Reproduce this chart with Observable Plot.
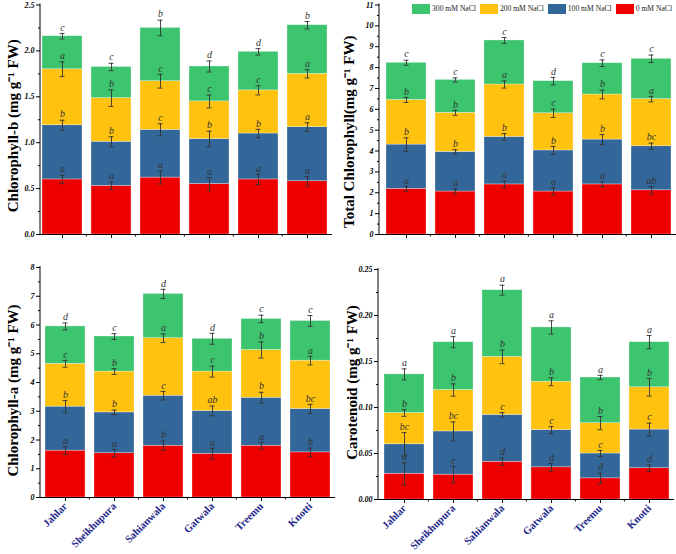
<!DOCTYPE html>
<html><head><meta charset="utf-8">
<script src="https://cdn.jsdelivr.net/npm/d3@7"></script>
<script src="https://cdn.jsdelivr.net/npm/@observablehq/plot@0.6"></script>
<style>
body{margin:0;background:#fff;}
#fig{position:relative;width:676px;height:554px;overflow:hidden;font-family:"Liberation Serif",serif;}
.panel{position:absolute;}
#legend{position:absolute;right:4px;top:4px;display:flex;align-items:center;font-size:7.6px;color:#222;white-space:nowrap;line-height:10px;}
.sw{display:inline-block;width:18px;height:10px;margin-right:2px;}
.lab{margin-right:4px;}
.lab:last-child{margin-right:0;}
</style></head><body><div id="fig"></div>
<script>
const sites = ["Jahlar","Sheikhupura","Sahianwala","Gatwala","Treemu","Knotti"];
const levels = ["0 mM NaCl","100 mM NaCl","200 mM NaCl","300 mM NaCl"];
const levelColors = ["#ee0000","#336699","#ffc20e","#3cc46e"];
const legendOrder = ["300 mM NaCl","200 mM NaCl","100 mM NaCl","0 mM NaCl"];

// Chlorophyll-b: rows = levels (0,100,200,300 mM), columns = sites (segment heights)
const chlbValues = [
  [0.60,0.53,0.62,0.55,0.60,0.58],
  [0.59,0.48,0.52,0.49,0.50,0.59],
  [0.61,0.475,0.53,0.41,0.47,0.58],
  [0.36,0.34,0.58,0.38,0.42,0.53]];
const chlbErrors = [
  [0.045,0.04,0.07,0.07,0.055,0.05],
  [0.055,0.055,0.065,0.085,0.045,0.047],
  [0.08,0.09,0.075,0.07,0.05,0.045],
  [0.03,0.04,0.085,0.06,0.035,0.04]];
const chlbLetters = [
  ["a","a","a","a","a","a"],
  ["b","b","c","b","b","a"],
  ["a","b","c","c","c","a"],
  ["c","c","b","d","d","b"]];
const chlbTicks = [0,0.5,1,1.5,2,2.5];

// Total chlorophyll
const totValues = [
  [2.19,2.06,2.40,2.06,2.40,2.12],
  [2.12,1.90,2.28,1.97,2.15,2.11],
  [2.14,1.87,2.51,1.78,2.16,2.26],
  [1.78,1.58,2.11,1.54,1.50,1.93]];
const totErrors = [
  [0.12,0.12,0.16,0.18,0.13,0.18],
  [0.32,0.10,0.16,0.19,0.24,0.15],
  [0.12,0.12,0.17,0.20,0.21,0.13],
  [0.12,0.10,0.14,0.18,0.16,0.18]];
const totLetters = [
  ["a","a","a","a","a","ab"],
  ["b","b","b","b","b","bc"],
  ["b","b","a","c","b","a"],
  ["c","c","c","d","c","c"]];
const totTicks = [0,1,2,3,4,5,6,7,8,9,10,11];

// Chlorophyll-a
const chlaValues = [
  [1.63,1.54,1.80,1.52,1.80,1.57],
  [1.53,1.42,1.74,1.49,1.67,1.51],
  [1.49,1.42,2.00,1.37,1.66,1.68],
  [1.30,1.22,1.54,1.14,1.08,1.38]];
const chlaErrors = [
  [0.13,0.13,0.16,0.19,0.12,0.15],
  [0.21,0.08,0.15,0.17,0.19,0.16],
  [0.12,0.10,0.15,0.19,0.28,0.15],
  [0.12,0.10,0.16,0.19,0.13,0.19]];
const chlaLetters = [
  ["a","a","b","a","a","b"],
  ["b","b","c","ab","b","bc"],
  ["c","b","a","c","b","a"],
  ["d","c","d","d","c","c"]];
const chlaTicks = [0,1,2,3,4,5,6,7,8];

// Carotenoid
const carValues = [
  [0.028,0.027,0.041,0.035,0.023,0.034],
  [0.032,0.047,0.051,0.0405,0.027,0.042],
  [0.034,0.045,0.063,0.0525,0.033,0.046],
  [0.042,0.052,0.0725,0.059,0.0496,0.049]];
const carErrors = [
  [0.012,0.009,0.004,0.0042,0.0056,0.0036],
  [0.0127,0.0103,0.0024,0.0038,0.0033,0.007],
  [0.0036,0.0067,0.0074,0.0043,0.0072,0.0096],
  [0.006,0.006,0.0054,0.0072,0.0024,0.0072]];
const carLetters = [
  ["d","c","d","d","d","d"],
  ["bc","bc","c","c","c","c"],
  ["b","b","b","b","b","b"],
  ["a","a","a","a","a","a"]];
const carTicks = [0,0.05,0.10,0.15,0.20,0.25];

const SERIF = "Liberation Serif, Times New Roman, serif";
const PAD = 0.19;

function buildRows(values, errors, letters) {
  const out = [];
  sites.forEach((s, j) => {
    let cum = 0;
    levels.forEach((lv, i) => {
      cum += values[i][j];
      out.push({site: s, level: lv, value: values[i][j], top: cum, err: errors[i][j], letter: letters[i][j]});
    });
  });
  return out;
}

const panels = [
  {left:0, top:0, width:338, height:270, mt:4.5, mb:36, ml:40, mr:6, range:[41,327],
   ticks:chlbTicks, fmt:d3.format(".1f"), title:"Chlorophyll-b (mg g⁻¹ FW)", tdx:-27, tdy:6, xlab:false,
   values:chlbValues, errors:chlbErrors, letters:chlbLetters},
  {left:338, top:0, width:338, height:270, mt:4.5, mb:36, ml:41, mr:0, range:[47,333],
   ticks:totTicks, fmt:d3.format("d"), title:"Total Chlorophyll(mg g⁻¹ FW)", tdx:-30, tdy:12, xlab:false,
   values:totValues, errors:totErrors, letters:totLetters},
  {left:0, top:260, width:338, height:294, mt:7, mb:57, ml:40, mr:3, range:[44,331],
   ticks:chlaTicks, fmt:d3.format("d"), title:"Chlorophyll-a (mg g⁻¹ FW)", tdx:-27, tdy:8, xlab:true,
   values:chlaValues, errors:chlaErrors, letters:chlaLetters},
  {left:338, top:260, width:338, height:294, mt:9, mb:55, ml:40, mr:2, range:[45,331],
   ticks:carTicks, fmt:d3.format(".2f"), title:"Carotenoid (mg g⁻¹ FW)", tdx:-26, tdy:-2, xlab:true,
   values:carValues, errors:carErrors, letters:carLetters}
];

const fig = document.getElementById("fig");

panels.forEach(P => {
  const data = buildRows(P.values, P.errors, P.letters);
  const t = P.ticks;
  const minor = [];
  for (let i = 0; i < t.length - 1; i++) minor.push((t[i] + t[i+1]) / 2);
  const ymax = t[t.length - 1];

  const axisLines = (index, scales, values, dims) => {
    const ns = "http://www.w3.org/2000/svg";
    const g = document.createElementNS(ns, "g");
    const l = document.createElementNS(ns, "line");
    l.setAttribute("x1", dims.marginLeft); l.setAttribute("x2", dims.marginLeft);
    l.setAttribute("y1", dims.marginTop - 1); l.setAttribute("y2", dims.height - dims.marginBottom);
    l.setAttribute("stroke", "#000"); l.setAttribute("stroke-width", 1);
    g.appendChild(l);
    const step = scales.x(sites[1]) - scales.x(sites[0]);
    const gap = step * PAD;
    const yb = dims.height - dims.marginBottom;
    for (let i = 1; i < sites.length; i++) {
      const xm = scales.x(sites[i]) - gap / 2;
      const m = document.createElementNS(ns, "line");
      m.setAttribute("x1", xm); m.setAttribute("x2", xm);
      m.setAttribute("y1", yb); m.setAttribute("y2", yb + 2.5);
      m.setAttribute("stroke", "#000");
      g.appendChild(m);
    }
    return g;
  };

  const chart = Plot.plot({
    width: P.width, height: P.height,
    marginTop: P.mt, marginBottom: P.mb, marginLeft: P.ml, marginRight: P.mr,
    style: {background: "transparent", overflow: "visible", fontFamily: SERIF},
    x: {type: "band", domain: sites, range: P.range, paddingInner: PAD, paddingOuter: 0, label: null},
    y: {domain: [0, ymax], label: null},
    color: {domain: levels, range: levelColors},
    marks: [
      Plot.barY(data, {x: "site", y: "value", fill: "level", stroke: "#ffffff", strokeWidth: 0.6, strokeOpacity: 0.5}),
      Plot.ruleX(data, {x: "site", y1: d => d.top - d.err, y2: d => d.top + d.err, stroke: "#333", strokeWidth: 0.9}),
      Plot.tickY(data, {x: "site", y: d => d.top + d.err, insetLeft: 17.5, insetRight: 17.5, stroke: "#333", strokeWidth: 0.9}),
      Plot.tickY(data, {x: "site", y: d => d.top - d.err, insetLeft: 17.5, insetRight: 17.5, stroke: "#333", strokeWidth: 0.9}),
      Plot.text(data, {x: "site", y: d => d.top + d.err, text: "letter", dy: -6, fontStyle: "italic", fontSize: 10, fill: "#333", fontFamily: SERIF}),
      Plot.axisY({ticks: t, tickSize: 4, tickPadding: 2, tickFormat: P.fmt, fontSize: 8, fontStyle: "italic", fontWeight: "bold", fontFamily: SERIF, fill: "#000", label: null}),
      Plot.axisY({ticks: minor, tickSize: 2, tickFormat: () => "", label: null}),
      P.xlab
        ? Plot.axisX({tickSize: 4, tickPadding: 3, tickRotate: -45, fontSize: 10.5, fontWeight: "bold", fontFamily: SERIF, fill: "#1f2a8c", label: null})
        : Plot.axisX({tickSize: 4, tickFormat: () => "", label: null}),
      Plot.ruleY([0], {stroke: "#000", strokeWidth: 1}),
      axisLines,
      Plot.text([P.title], {text: d => d, frameAnchor: "left", rotate: -90, textAnchor: "middle", dx: P.tdx, dy: P.tdy, fontSize: 15, fontWeight: "bold", fontFamily: SERIF, fill: "#000"})
    ]
  });
  const div = document.createElement("div");
  div.className = "panel";
  div.style.left = P.left + "px";
  div.style.top = P.top + "px";
  div.appendChild(chart);
  fig.appendChild(div);
});

// legend
const leg = document.createElement("div");
leg.id = "legend";
legendOrder.forEach(lv => {
  const sw = document.createElement("span");
  sw.className = "sw";
  sw.style.background = levelColors[levels.indexOf(lv)];
  const lab = document.createElement("span");
  lab.className = "lab";
  lab.textContent = lv;
  leg.appendChild(sw);
  leg.appendChild(lab);
});
fig.appendChild(leg);
</script>
</body></html>
